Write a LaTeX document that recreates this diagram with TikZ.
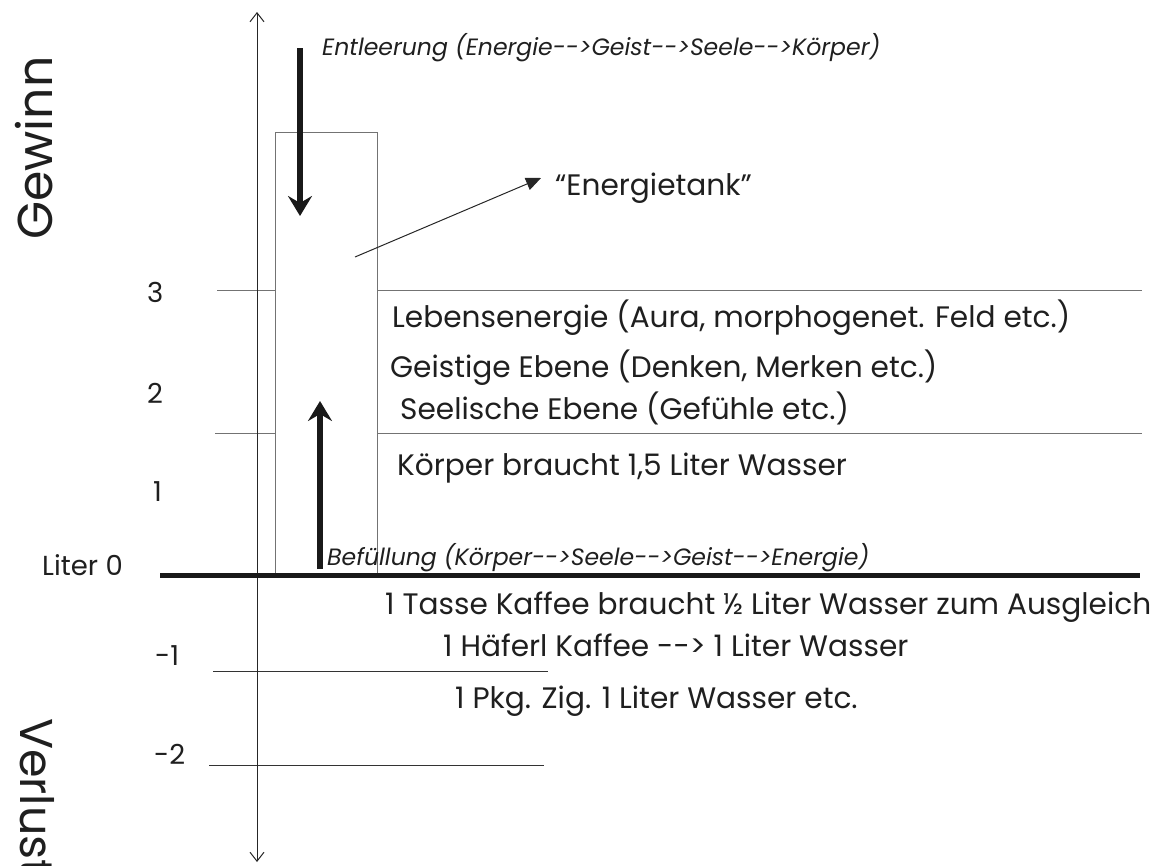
\documentclass[tikz,border=0pt]{standalone}
\usepackage{fontspec}
\setmainfont{Poppins}
\usetikzlibrary{arrows.meta}
\newcommand\arr{-\kern0pt-\kern0pt>}
\tikzset{
  lbl/.style={inner sep=0pt, anchor=base west, font=\fontsize{29.6}{32}\selectfont, text=black!88},
  ital/.style={inner sep=0pt, anchor=base west, font=\fontsize{23.6}{26}\selectfont\itshape, text=black!88},
  tick/.style={inner sep=0pt, anchor=base west, font=\fontsize{27.5}{30}\selectfont, text=black!88},
  big/.style={inner sep=0pt, anchor=base west, font=\fontsize{49}{54}\selectfont, text=black!88},
  level/.style={draw=black!55, line width=1pt},
  fatarrow/.style={draw=black!90, line width=6pt, -{Stealth[length=20pt,width=24pt,inset=7pt]}},
}
\begin{document}
\begin{tikzpicture}[x=1pt,y=-1pt]
\useasboundingbox (0,0) rectangle (1150,865);
% coordinates
\coordinate (axtop) at (257,12);
\coordinate (axbot) at (257,862);
\coordinate (l3a) at (217,290); \coordinate (l3b) at (1142,290);
\coordinate (l2a) at (215,433); \coordinate (l2b) at (1142,433);
\coordinate (l1a) at (213,671); \coordinate (l1b) at (548,671);
\coordinate (lma) at (209,765); \coordinate (lmb) at (544,765);
\coordinate (base0) at (160,575); \coordinate (base1) at (1140,575);
% level lines
\draw[level] (l3a) -- (l3b);
\draw[level] (l2a) -- (l2b);
\draw[draw=black!80, line width=1pt] (l1a) -- (l1b);
\draw[draw=black!80, line width=1pt] (lma) -- (lmb);
% tank
\node[draw=black!55, fill=white, line width=1pt, minimum width=102pt, minimum height=442pt, inner sep=0pt, anchor=north west] (tank) at (275,132) {};
% axis
\draw[black!85, line width=1pt, {Straight Barb[length=9pt,width=14pt]}-{Straight Barb[length=9pt,width=14pt]}] (axbot) -- (axtop);
% base line
\draw[black!90, line width=5pt] (base0) -- (base1);
% fat arrows
\coordinate (dA) at (300,48); \coordinate (dB) at (300,216);
\coordinate (uA) at (320,569); \coordinate (uB) at (320,401);
\draw[fatarrow] (dA) -- (dB);
\draw[fatarrow] (uA) -- (uB);
% tank pointer
\coordinate (ptr) at (355,257);
\coordinate (ptrtip) at (541,178);
\node[lbl, anchor=base west] (tanklbl) at (555,195) {“Energietank”};
\draw[black!85, line width=1pt, -{Triangle[length=15pt,width=13pt]}] (ptr) -- (ptrtip);
% texts
\node[ital] (entl) at (322,55) {Entleerung (Energie\arr Geist\arr Seele\arr Körper)};
\node[ital] (bef) at (327,565) {Befüllung (Körper\arr Seele\arr Geist\arr Energie)};
\node[lbl] (t1) at (392,327) {Lebensenergie (Aura, morphogenet. Feld etc.)};
\node[lbl] (t2) at (390,377) {Geistige Ebene (Denken, Merken etc.)};
\node[lbl] (t3) at (400,419) {Seelische Ebene (Gefühle etc.)};
\node[lbl] (t4) at (397,475) {Körper braucht 1,5 Liter Wasser};
\node[lbl] (t5) at (385,614) {1 Tasse Kaffee braucht ½ Liter Wasser zum Ausgleich};
\node[lbl] (t6) at (443,656) {1 Häferl Kaffee \arr{} 1 Liter Wasser};
\node[lbl] (t7) at (455,708) {1 Pkg. Zig. 1 Liter Wasser etc.};
% ticks
\node[tick] (n3) at (147,302) {3};
\node[tick] (n2) at (147,403) {2};
\node[tick] (n1) at (153,501) {1};
\node[tick] (n0) at (42,575) {Liter 0};
\node[tick] (nm1) at (155,665) {-1};
\node[tick] (nm2) at (154,764) {-2};
% side labels
\node[big, rotate=90] (gew) at (52,240) {Gewinn};
\node[big, rotate=-90, font=\fontsize{46}{50}\selectfont] (ver) at (20,718) {Verlust};
\end{tikzpicture}
\end{document}
